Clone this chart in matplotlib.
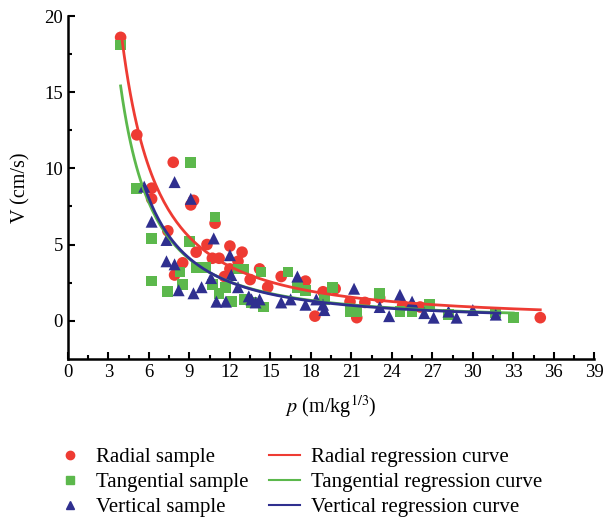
import numpy as np
import matplotlib.pyplot as plt
from matplotlib.lines import Line2D

plt.rcParams['font.family'] = ['Liberation Serif', 'DejaVu Serif']
plt.rcParams['mathtext.fontset'] = 'stix'

# scattered samples (p, V)
radial_p = [3.9, 5.1, 7.8, 6.2, 6.2, 9.1, 9.3, 7.4, 10.9, 7.9, 8.5, 9.5, 10.3, 10.7, 11.2,
            12.0, 12.6, 12.9, 12.0, 11.6, 14.2, 13.5, 14.8, 15.8, 17.6, 18.9, 19.8, 18.3,
            20.9, 21.4, 22.0, 23.1, 24.8, 26.1, 35.0]
radial_v = [18.6, 12.2, 10.4, 8.7, 8.0, 7.6, 7.9, 5.9, 6.4, 3.0, 3.8, 4.5, 5.0, 4.1, 4.1,
            4.9, 3.9, 4.5, 3.4, 2.9, 3.4, 2.7, 2.2, 2.9, 2.6, 1.9, 2.1, 0.3,
            1.25, 0.2, 1.2, 1.5, 1.0, 0.9, 0.2]

tang_p = [3.9, 9.1, 5.1, 6.2, 6.2, 7.4, 8.5, 9.0, 10.9, 8.3, 9.5, 10.2, 10.7, 11.2, 11.7,
          12.6, 13.0, 12.1, 13.1, 13.6, 14.3, 16.3, 14.5, 17.0, 17.6, 19.6, 19.0, 20.9,
          21.4, 23.1, 24.6, 25.5, 26.8, 28.2, 31.7, 33.0]
tang_v = [18.1, 10.4, 8.7, 5.4, 2.6, 1.9, 2.4, 5.2, 6.8, 3.2, 3.5, 3.5, 2.4, 1.8, 2.2,
          3.4, 3.4, 1.25, 1.4, 1.2, 3.2, 3.2, 0.9, 2.2, 2.0, 2.2, 1.4, 0.6,
          0.6, 1.8, 0.6, 0.6, 1.05, 0.4, 0.5, 0.2]

vert_p = [7.9, 5.65, 9.1, 6.2, 7.3, 10.8, 12.0, 7.3, 7.9, 8.2, 9.3, 9.9, 10.6, 12.1, 12.6,
          11.0, 11.7, 13.4, 13.9, 13.6, 14.2, 15.8, 16.5, 17.0, 17.6, 18.4, 18.9, 19.0,
          21.2, 23.1, 23.8, 24.6, 25.5, 26.4, 27.1, 28.2, 28.8, 30.0, 31.7]
vert_v = [9.1, 8.8, 8.0, 6.5, 5.3, 5.4, 4.3, 3.9, 3.7, 2.0, 1.8, 2.2, 2.8, 3.0, 2.2,
          1.25, 1.25, 1.6, 1.2, 1.4, 1.4, 1.2, 1.4, 2.9, 1.05, 1.4, 1.05, 0.7,
          2.1, 0.9, 0.3, 1.7, 1.25, 0.5, 0.2, 0.6, 0.2, 0.7, 0.4]

# regression V = k * p^(-a), fitted range
radial_fit = (148, 1.5, 4.0, 35.0)
tang_fit = (136, 1.6, 3.9, 33.0)
vert_fit = (157, 1.66, 5.65, 32.0)

red = '#ee3b33'
green = '#5cb84c'
blue = '#2f2f8f'

fig = plt.figure(figsize=(6.07, 5.17), dpi=100)
ax = fig.add_axes([0.112, 0.306, 0.867, 0.663])

ax.scatter(radial_p, radial_v, marker='o', s=70, color=red, edgecolors='none', zorder=3)
ax.scatter(tang_p, tang_v, marker='s', s=60, color=green, edgecolors='none', zorder=3)
ax.scatter(vert_p, vert_v, marker='^', s=75, color=blue, edgecolors='none', zorder=3)

for (k, a, p0, p1), c in [(radial_fit, red), (tang_fit, green), (vert_fit, blue)]:
    pp = np.linspace(p0, p1, 200)
    ax.plot(pp, k * pp ** (-a), color=c, lw=2, zorder=4)

ax.set_xlim(0, 39)
ax.set_ylim(-2.5, 20)
ax.set_xticks(np.arange(0, 40, 3))
ax.set_xticks(np.arange(0, 39.1, 1.5), minor=True)
ax.set_yticks([0, 5, 10, 15, 20])
ax.set_yticks(np.arange(0, 20.1, 2.5), minor=True)
ax.tick_params(which='both', direction='in', width=1.5, labelsize=13.5)
ax.tick_params(which='major', length=5)
ax.tick_params(which='minor', length=3)
for s in ['top', 'right']:
    ax.spines[s].set_visible(False)
for s in ['left', 'bottom']:
    ax.spines[s].set_linewidth(1.8)

ax.set_xlabel('$p$ (m/kg$^{1/3}$)', fontsize=14.5, labelpad=9)
ax.set_ylabel('V (cm/s)', fontsize=14.5, labelpad=10)

handles = [
    Line2D([], [], marker='o', ls='none', color=red, ms=6),
    Line2D([], [], marker='s', ls='none', color=green, ms=5.5),
    Line2D([], [], marker='^', ls='none', color=blue, ms=6),
    Line2D([], [], color=red, lw=1.5),
    Line2D([], [], color=green, lw=1.5),
    Line2D([], [], color=blue, lw=1.5),
]
labels = ['Radial sample', 'Tangential sample', 'Vertical sample',
          'Radial regression curve', 'Tangential regression curve', 'Vertical regression curve']
fig.legend(handles, labels, ncol=2, loc='lower left', bbox_to_anchor=(0.058, -0.036),
           frameon=False, fontsize=15, handlelength=1.5, columnspacing=1.0,
           labelspacing=0.25, handletextpad=0.5)

fig.savefig('out.png', dpi=100)
